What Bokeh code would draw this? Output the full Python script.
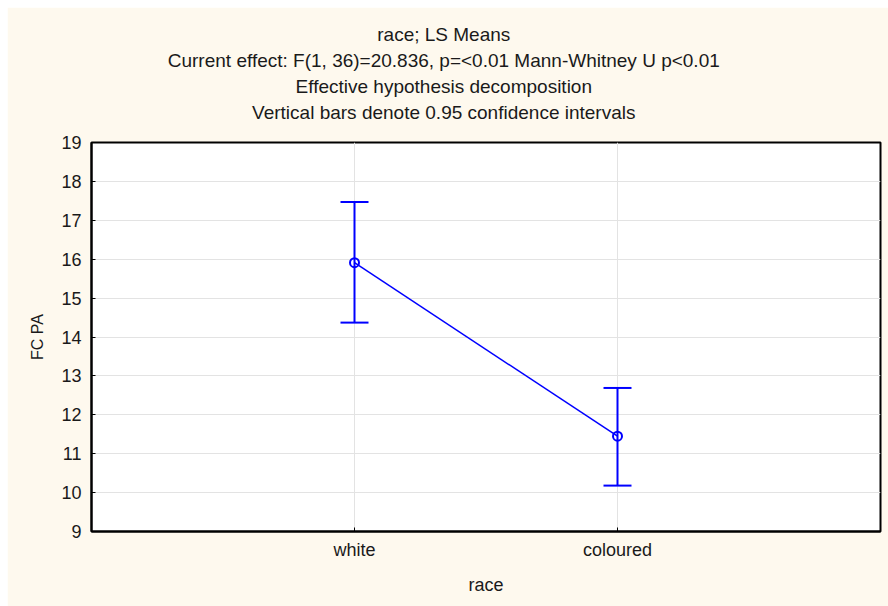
from bokeh.plotting import figure
from bokeh.models import (ColumnDataSource, FixedTicker, Range1d, Title,
                          Whisker, TeeHead)
from bokeh.embed import file_html
from bokeh.resources import INLINE

# LS means of FC PA by race with 0.95 confidence limits
categories = ["white", "coloured"]
means = [15.91, 11.45]
upper = [17.47, 12.69]
lower = [14.37, 10.18]

title_lines = [
    "race; LS Means",
    "Current effect: F(1, 36)=20.836, p=<0.01 Mann-Whitney U p<0.01",
    "Effective hypothesis decomposition",
    "Vertical bars denote 0.95 confidence intervals",
]

FONT = "Liberation Sans"
CREAM = "#FEF9EE"
BLUE = "#0000FF"
TEXT = "#1a1a1a"

xpos = list(range(1, len(categories) + 1))
src = ColumnDataSource(dict(x=xpos, mean=means, upper=upper, lower=lower))

p = figure(width=881, height=599, margin=(7, 0, 0, 7),
           x_range=Range1d(0, 3), y_range=Range1d(9, 19),
           output_backend="svg", toolbar_location=None,
           min_border_left=84, min_border_right=8,
           min_border_top=135, min_border_bottom=75)
p.title = None
p.background_fill_color = "white"
p.border_fill_color = CREAM
p.outline_line_color = "black"
p.outline_line_width = 2

# blank strip between the frame and the heading block
p.add_layout(Title(text="\u00a0", text_font=FONT, text_font_size="10px",
                   standoff=5), "above")

# stacked heading lines, nearest the frame added first; trailing no-break
# spaces move the centred text over the middle of the whole canvas
pad = "\u00a0" * 16
for line in reversed(title_lines):
    p.add_layout(Title(text=line + pad, align="center", text_font=FONT,
                       text_font_size="19px", text_font_style="normal",
                       text_color=TEXT, standoff=3),
                 "above")

for ax in (p.xaxis[0], p.yaxis[0]):
    ax.axis_line_color = "black"
    ax.axis_line_width = 2
    ax.major_tick_in = 4
    ax.major_tick_out = 0
    ax.minor_tick_line_color = None
    ax.major_tick_line_color = "black"
    ax.major_label_text_font = FONT
    ax.major_label_text_font_size = "18px"
    ax.major_label_text_color = TEXT
    ax.axis_label_text_font = FONT
    ax.axis_label_text_font_size = "18px"
    ax.axis_label_text_font_style = "normal"
    ax.axis_label_text_color = TEXT

p.xaxis.ticker = FixedTicker(ticks=xpos)
p.xaxis.major_label_overrides = {x: c for x, c in zip(xpos, categories)}
p.xaxis.axis_label = "race"
p.xaxis.major_label_standoff = 8
p.xaxis.axis_label_standoff = 12

p.yaxis.ticker = FixedTicker(ticks=list(range(9, 20)))
p.yaxis.axis_label = "FC PA"
p.yaxis.axis_label_text_font_size = "16px"
p.yaxis.major_label_standoff = 10
p.yaxis.axis_label_standoff = 12

p.xgrid.grid_line_color = "#E3E3E3"
p.ygrid.grid_line_color = "#E3E3E3"
p.xgrid.grid_line_width = 1
p.ygrid.grid_line_width = 1

p.add_layout(Whisker(source=src, base="x", upper="upper", lower="lower",
                     line_color=BLUE, line_width=2,
                     upper_head=TeeHead(size=28, line_color=BLUE, line_width=2),
                     lower_head=TeeHead(size=28, line_color=BLUE, line_width=2)))
p.line("x", "mean", source=src, line_color=BLUE, line_width=1.5)
p.scatter("x", "mean", source=src, marker="circle", size=9,
          line_color=BLUE, line_width=2, fill_color=None)

open("out.html", "w").write(file_html(p, INLINE))
